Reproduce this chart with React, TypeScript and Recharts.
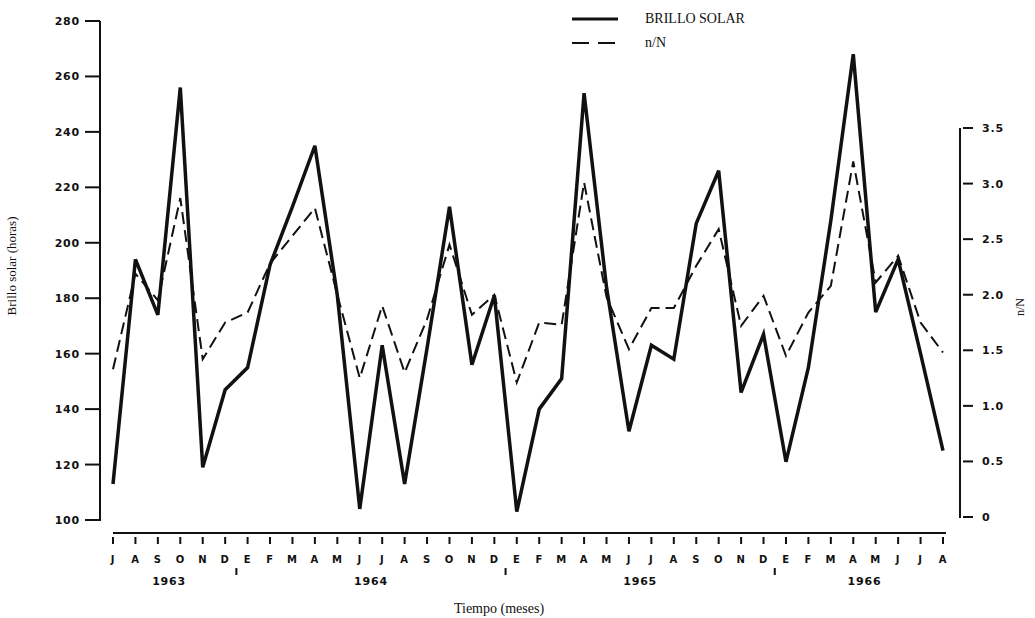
import { LineChart, Line, XAxis, YAxis, Legend, Label } from 'recharts';

// months from July 1963 to August 1966 (E = enero)
const months = [
  'J', 'A', 'S', 'O', 'N', 'D',
  'E', 'F', 'M', 'A', 'M', 'J', 'J', 'A', 'S', 'O', 'N', 'D',
  'E', 'F', 'M', 'A', 'M', 'J', 'J', 'A', 'S', 'O', 'N', 'D',
  'E', 'F', 'M', 'A', 'M', 'J', 'J', 'A',
];
const yearLabels = ['1963', '1964', '1965', '1966'];
const monthsPerYear = [6, 12, 12, 8];

// horas de brillo solar
const brilloSolar = [
  113, 194, 174, 256, 119, 147,
  155, 192, 213, 235, 181, 104, 163, 113, 162, 213, 156, 181,
  103, 140, 151, 254, 184, 132, 163, 158, 207, 226, 146, 167,
  121, 155, 208, 268, 175, 194, 160, 125,
];

// n/N
const razonNN = [
  1.33, 2.19, 1.95, 2.87, 1.42, 1.75,
  1.84, 2.28, 2.53, 2.78, 2.0, 1.25, 1.9, 1.3, 1.78, 2.45, 1.82, 2.0,
  1.21, 1.75, 1.73, 3.01, 1.98, 1.51, 1.88, 1.88, 2.26, 2.59, 1.72, 1.99,
  1.45, 1.84, 2.08, 3.2, 2.11, 2.35, 1.75, 1.48,
];

const leftTicks = [100, 120, 140, 160, 180, 200, 220, 240, 260, 280];
const rightTicks = [0, 0.5, 1, 1.5, 2, 2.5, 3, 3.5];

const W = 1035;
const H = 618;
const PLOT_W = 860;
const PAD_L = 13;
const PAD_R = 17;
const STEP = (PLOT_W - PAD_L - PAD_R) / (months.length - 1);

const yearStart: number[] = [];
monthsPerYear.reduce((acc, n) => {
  yearStart.push(acc);
  return acc + n;
}, 0);

const data = months.map((m, i) => ({
  id: `${m}-${i}`,
  brillo: brilloSolar[i],
  nN: razonNN[i],
}));

const INK = '#111';
const tickFont = { fontFamily: 'DejaVu Sans', fontWeight: 700, fontSize: 11, letterSpacing: 0.8 };
const serif = { fontFamily: 'Liberation Serif', fontSize: 14 };

const XTick = ({ x, y, index }: any) => {
  const yi = yearStart.findIndex((s, k) => index >= s && index < s + monthsPerYear[k]);
  const start = yearStart[yi];
  const center = start + (monthsPerYear[yi] - 1) / 2;
  return (
    <g>
      <line x1={x} y1={y + 4} x2={x} y2={y + 11} stroke={INK} strokeWidth={2} />
      <text x={x} y={y + 30} textAnchor="middle" fill={INK} style={{ ...tickFont, fontSize: 10 }}>
        {months[index]}
      </text>
      {index === Math.floor(center) && (
        <text x={x + (center - index) * STEP} y={y + 52} textAnchor="middle" fill={INK} style={tickFont}>
          {yearLabels[yi]}
        </text>
      )}
      {index === start && yi > 0 && (
        <line x1={x - STEP / 2} y1={y + 35} x2={x - STEP / 2} y2={y + 42} stroke={INK} strokeWidth={2} />
      )}
    </g>
  );
};

const LeftTick = ({ x, y, payload }: any) => (
  <g>
    <line x1={x - 15} y1={y} x2={x} y2={y} stroke={INK} strokeWidth={2} />
    <text x={x - 20} y={y + 4} textAnchor="end" fill={INK} style={tickFont}>
      {payload.value}
    </text>
  </g>
);

const RightTick = ({ x, y, payload }: any) => (
  <g>
    <line x1={x + 3} y1={y} x2={x + 13} y2={y} stroke={INK} strokeWidth={2} />
    <text x={x + 22} y={y + 4} textAnchor="start" fill={INK} style={tickFont}>
      {payload.value === 0 ? '0' : payload.value.toFixed(1)}
    </text>
  </g>
);

const seriesStyle: Record<string, { width: number; dash?: string }> = {
  brillo: { width: 3 },
  nN: { width: 2, dash: '17 9' },
};

// legend box is zero-sized so it does not push the plot down
const renderLegend = ({ payload }: any) => (
  <svg width={230} height={55} style={{ overflow: 'visible', display: 'block' }}>
    {(payload || []).map((entry: any, i: number) => {
      const st = seriesStyle[entry.dataKey] || { width: 2 };
      const cy = 19 + i * 24;
      return (
        <g key={entry.value}>
          <line x1={12} y1={cy} x2={58} y2={cy} stroke={INK} strokeWidth={st.width} strokeDasharray={st.dash} />
          <text x={85} y={cy + 4} fill={INK} style={serif}>
            {entry.value}
          </text>
        </g>
      );
    })}
  </svg>
);

export default function App() {
  return (
    <div style={{ position: 'absolute', left: 0, top: 0, width: W, height: H, background: '#fff' }}>
      <LineChart width={W} height={H} data={data} margin={{ top: 21, right: 0, bottom: 5, left: 0 }}>
        <XAxis
          dataKey="id"
          height={80}
          interval={0}
          padding={{ left: PAD_L, right: PAD_R }}
          tickSize={0}
          tickMargin={0}
          tickLine={false}
          tick={<XTick />}
          axisLine={{ stroke: INK, strokeWidth: 2, strokeDasharray: `0 ${PAD_L} ${PLOT_W - PAD_L - 14} 1000` }}
        >
          <Label
            content={() => (
              <text x={499} y={613} textAnchor="middle" fill={INK} style={serif}>
                Tiempo (meses)
              </text>
            )}
          />
        </XAxis>
        <YAxis
          yAxisId="left"
          width={100}
          domain={[95.31, 280]}
          ticks={leftTicks}
          tickSize={0}
          tickMargin={0}
          tickLine={false}
          tick={<LeftTick />}
          axisLine={{ stroke: INK, strokeWidth: 2, strokeDasharray: '500 1000' }}
        >
          <Label
            content={() => (
              <text x={16} y={266} transform="rotate(-90 16 266)" textAnchor="middle" fill={INK} style={{ ...serif, fontSize: 13 }}>
                Brillo solar (horas)
              </text>
            )}
          />
        </YAxis>
        <YAxis
          yAxisId="right"
          orientation="right"
          width={75}
          domain={[-0.144, 4.463]}
          ticks={rightTicks}
          tickSize={0}
          tickMargin={0}
          tickLine={false}
          tick={<RightTick />}
          axisLine={{ stroke: INK, strokeWidth: 2, strokeDasharray: '0 107 390 1000' }}
        >
          <Label
            content={() => (
              <text x={1024} y={307} transform="rotate(-90 1024 307)" textAnchor="middle" fill={INK} style={{ ...serif, fontSize: 12 }}>
                n/N
              </text>
            )}
          />
        </YAxis>
        <Legend
          layout="vertical"
          align="center"
          verticalAlign="top"
          content={renderLegend}
          wrapperStyle={{ position: 'absolute', left: 560, top: 0, width: 0, height: 0, overflow: 'visible' }}
        />
        <Line
          yAxisId="left"
          name="BRILLO SOLAR"
          dataKey="brillo"
          type="linear"
          stroke={INK}
          strokeWidth={3.5}
          dot={false}
          activeDot={false}
          isAnimationActive={false}
        />
        <Line
          yAxisId="right"
          name="n/N"
          dataKey="nN"
          type="linear"
          stroke={INK}
          strokeWidth={2}
          strokeDasharray="12 6"
          dot={false}
          activeDot={false}
          isAnimationActive={false}
        />
      </LineChart>
    </div>
  );
}
